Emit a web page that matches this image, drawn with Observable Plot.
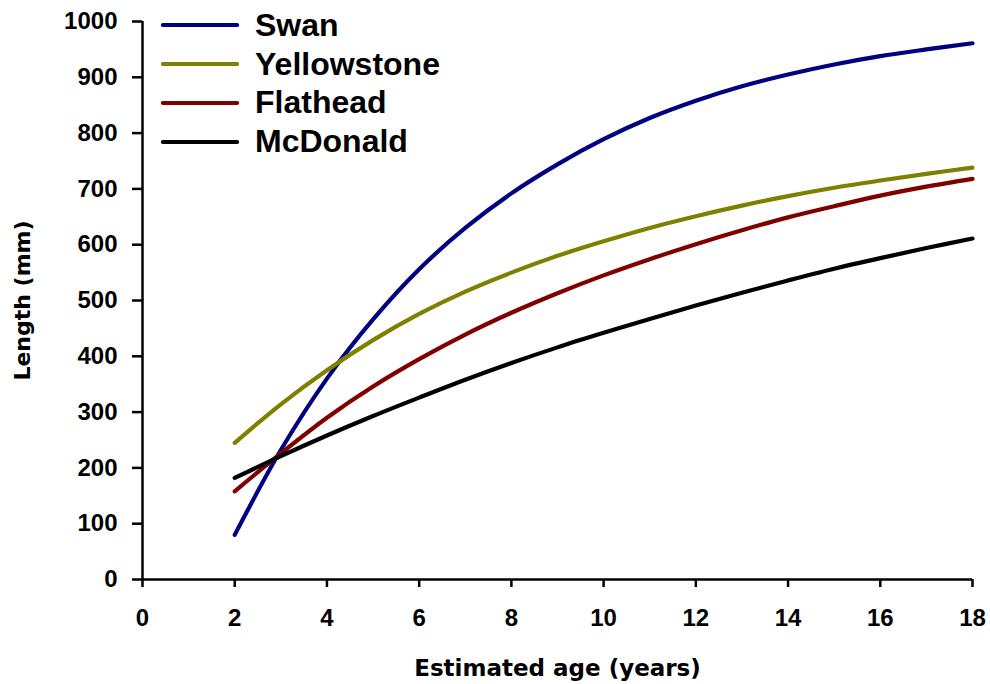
<!DOCTYPE html>
<html><head><meta charset="utf-8">
<script src="https://cdn.jsdelivr.net/npm/d3@7"></script>
<script src="https://cdn.jsdelivr.net/npm/@observablehq/plot@0.6"></script>
<style>
body{margin:0;background:#fff;}
#wrap{position:relative;width:990px;height:684px;}
#legend{position:absolute;left:161px;top:6px;font-family:"Liberation Sans",Arial,sans-serif;font-weight:bold;font-size:32px;color:#000;}
.row{display:flex;align-items:center;height:38.8px;}
.row svg{margin-right:16px;display:block;}
</style></head><body><div id="wrap"><div id="legend"></div></div>
<script>
const ages = [2,3,4,5,6,7,8,9,10,11,12,13,14,15,16,17,18];
const swan        = [80,232,360,466,556,630,692,744,789,827,858,884,905,923,938,950,961];
const yellowstone = [245,314,375,429,476,516,550,580,606,630,651,670,687,702,715,727,738];
const flathead    = [158,226,290,346,395,439,478,513,545,574,601,626,649,669,688,704,718];
const mcdonald    = [182,221,258,293,326,358,388,416,442,467,491,514,536,557,576,594,611];
const seriesNames  = ["Swan","Yellowstone","Flathead","McDonald"];
const seriesValues = [swan, yellowstone, flathead, mcdonald];
const seriesColors = ["#000080","#808000","#800000","#000000"];
const xTicks = [0,2,4,6,8,10,12,14,16,18];
const yTicks = [0,100,200,300,400,500,600,700,800,900,1000];

const data = [];
seriesNames.forEach((name, s) => {
  ages.forEach((a, i) => data.push({series: name, age: a, length: seriesValues[s][i]}));
});

const chart = Plot.plot({
  width: 990,
  height: 684,
  marginLeft: 142,
  marginRight: 18,
  marginTop: 21,
  marginBottom: 105,
  style: {fontFamily: "DejaVu Sans", fontWeight: "bold", color: "#000", background: "#fff", fontSize: "20px"},
  x: {domain: [0, 18]},
  y: {domain: [0, 1000]},
  color: {domain: seriesNames, range: seriesColors},
  marks: [
    Plot.axisX({ticks: xTicks, tickFormat: d3.format("d"), tickSize: 8, tickPadding: 21, strokeWidth: 2.5,
      label: "Estimated age (years)", labelAnchor: "center", labelArrow: "none", labelOffset: 96}),
    Plot.axisY({ticks: yTicks, tickFormat: d3.format("d"), tickSize: 10, tickPadding: 15, strokeWidth: 2.5,
      label: "Length (mm)", labelAnchor: "center", labelArrow: "none", labelOffset: 128}),
    Plot.ruleX([0], {strokeWidth: 2.5}),
    Plot.ruleY([0], {strokeWidth: 2.5}),
    Plot.line(data, {x: "age", y: "length", z: "series", stroke: "series",
      strokeWidth: 4.2, curve: "catmull-rom", strokeLinecap: "round"})
  ]
});
chart.querySelectorAll('[aria-label="x-axis tick label"], [aria-label="y-axis tick label"]')
  .forEach(g => {
    g.setAttribute("font-size", "24");
    g.setAttribute("font-family", "Liberation Sans, Arial, sans-serif");
    g.querySelectorAll("text").forEach(t => t.setAttribute("font-size", "24"));
  });
chart.querySelectorAll('[aria-label="x-axis label"]')
  .forEach(g => { g.setAttribute("font-size", "23"); g.querySelectorAll("text").forEach(t => t.setAttribute("font-size", "23")); });
chart.querySelectorAll('[aria-label="y-axis label"]')
  .forEach(g => { g.setAttribute("font-size", "22"); g.querySelectorAll("text").forEach(t => t.setAttribute("font-size", "22")); });
document.getElementById("wrap").prepend(chart);

const legend = document.getElementById("legend");
seriesNames.forEach((name, i) => {
  const row = document.createElement("div");
  row.className = "row";
  row.innerHTML = `<svg width="78" height="8"><line x1="2" y1="4" x2="76" y2="4" stroke="${seriesColors[i]}" stroke-width="4.2" stroke-linecap="round"/></svg><span>${name}</span>`;
  legend.appendChild(row);
});
</script>
</body></html>
